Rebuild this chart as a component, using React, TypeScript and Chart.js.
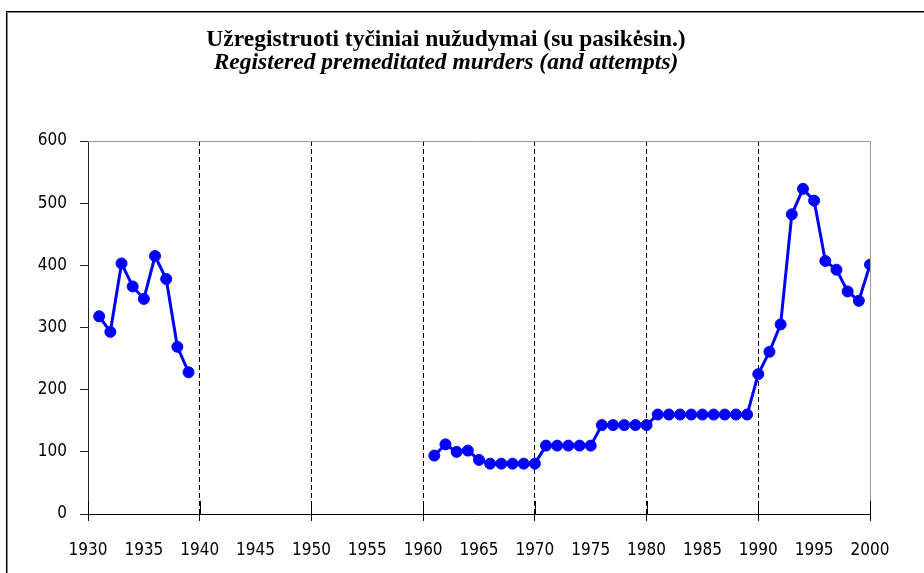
import React, { useEffect, useRef } from "react";
import { Chart, registerables } from "chart.js";

Chart.register(...registerables);

const titleLt = "Užregistruoti tyčiniai nužudymai (su pasikėsin.)";
const titleEn = "Registered premeditated murders (and attempts)";

const yearsPrewar = [1931, 1932, 1933, 1934, 1935, 1936, 1937, 1938, 1939];
const murdersPrewar = [318, 293, 403, 366, 346, 415, 378, 269, 228];

const yearsPostwar = [
  1961, 1962, 1963, 1964, 1965, 1966, 1967, 1968, 1969, 1970,
  1971, 1972, 1973, 1974, 1975, 1976, 1977, 1978, 1979, 1980,
  1981, 1982, 1983, 1984, 1985, 1986, 1987, 1988, 1989, 1990,
  1991, 1992, 1993, 1994, 1995, 1996, 1997, 1998, 1999, 2000,
];
const murdersPostwar = [
  94, 112, 100, 102, 87, 81, 81, 81, 81, 81,
  110, 110, 110, 110, 110, 143, 143, 143, 143, 143,
  160, 160, 160, 160, 160, 160, 160, 160, 160, 225,
  261, 305, 482, 523, 504, 407, 393, 358, 343, 401,
];

const xMin = 1930;
const xMax = 2000;
const xLabelStep = 5;
const xGridStep = 10;
const yMin = 0;
const yMax = 600;
const yStep = 100;

const tickFamily = "'DejaVu Sans Condensed', 'Liberation Sans Narrow', 'Liberation Sans', sans-serif";
const titleFamily = "'Liberation Serif', 'Times New Roman', serif";
const blue = "#0000FF";

const decor = {
  id: "decor",
  beforeDatasetsDraw(chart: any) {
    const { ctx, chartArea: a, scales } = chart;
    const x = scales.x;
    ctx.save();
    ctx.lineWidth = 1;
    ctx.strokeStyle = "#9a9a9a";
    ctx.beginPath();
    ctx.moveTo(a.left, Math.round(a.top) + 0.5);
    ctx.lineTo(Math.round(a.right) + 0.5, Math.round(a.top) + 0.5);
    ctx.lineTo(Math.round(a.right) + 0.5, a.bottom);
    ctx.stroke();
    ctx.strokeStyle = "#000";
    ctx.beginPath();
    for (const t of x.ticks) {
      if (t.value % xGridStep === 0) {
        const px = Math.round(x.getPixelForValue(t.value)) + 0.5;
        ctx.moveTo(px, a.bottom - 13);
        ctx.lineTo(px, a.bottom);
      }
    }
    ctx.stroke();
    ctx.restore();
  },
};

const toPoints = (xs: number[], ys: number[]) => xs.map((x, i) => ({ x, y: ys[i] }));

export default function App() {
  const ref = useRef<HTMLCanvasElement>(null);

  useEffect(() => {
    if (!ref.current) return;
    const seriesStyle = {
      borderColor: blue,
      backgroundColor: blue,
      pointBackgroundColor: blue,
      pointBorderColor: blue,
      borderWidth: 3,
      pointRadius: 5.5,
      pointBorderWidth: 1,
      tension: 0,
    };
    const chart = new Chart(ref.current, {
      type: "line",
      data: {
        datasets: [
          { ...seriesStyle, label: "1931-1939", data: toPoints(yearsPrewar, murdersPrewar) },
          { ...seriesStyle, label: "1961-2000", data: toPoints(yearsPostwar, murdersPostwar) },
        ],
      },
      options: {
        responsive: false,
        animation: false,
        devicePixelRatio: 1,
        layout: { padding: 0 },
        plugins: {
          legend: { display: false },
          tooltip: { enabled: false },
          title: {
            display: true,
            text: titleLt,
            color: "#000",
            font: { family: titleFamily, size: 23.5, weight: "bold", lineHeight: 1 },
            padding: { top: 28, bottom: 0 },
          },
          subtitle: {
            display: true,
            text: titleEn,
            color: "#000",
            font: { family: titleFamily, size: 23.5, weight: "bold", style: "italic", lineHeight: 1 },
            padding: { top: 0, bottom: 66 },
          },
        },
        scales: {
          x: {
            type: "linear",
            min: xMin,
            max: xMax,
            afterFit: (s: any) => {
              s.height = 59;
              s.paddingRight = 22;
              s.paddingLeft = 0;
            },
            ticks: {
              stepSize: xLabelStep,
              autoSkip: false,
              maxRotation: 0,
              padding: 19,
              color: "#000",
              font: { family: tickFamily, size: 17 },
              callback: (v: any) => String(v),
            },
            grid: {
              drawOnChartArea: true,
              drawTicks: true,
              tickLength: 7,
              lineWidth: 1,
              tickBorderDash: [],
              color: (c: any) => {
                const v = c.tick ? c.tick.value : null;
                return v !== null && v % xGridStep === 0 && v !== xMin && v !== xMax ? "#000" : "rgba(0,0,0,0)";
              },
              tickColor: (c: any) => {
                const v = c.tick ? c.tick.value : null;
                return v !== null && v % xGridStep === 0 ? "#000" : "rgba(0,0,0,0)";
              },
            },
            border: { display: true, color: "#000", width: 1, dash: [5, 3] },
          },
          y: {
            type: "linear",
            min: yMin,
            max: yMax,
            afterFit: (s: any) => { s.width = 88; },
            ticks: {
              stepSize: yStep,
              padding: 13,
              color: "#000",
              font: { family: tickFamily, size: 17 },
            },
            grid: {
              drawOnChartArea: false,
              drawTicks: true,
              tickLength: 8,
              tickColor: "#222",
            },
            border: { display: true, color: "#222", width: 1 },
          },
        },
      },
      plugins: [decor],
    });
    return () => chart.destroy();
  }, []);

  return (
    <div style={{ position: "fixed", left: 0, top: 0, width: 924, height: 573, background: "#fff" }}>
      <canvas ref={ref} width={892} height={573} style={{ position: "absolute", left: 0, top: 0, display: "block" }} />
      <div style={{ position: "absolute", left: 6, top: 11, width: 918, height: 562, borderTop: "1px solid #000", borderLeft: "1px solid #000", boxSizing: "border-box" }}>
        <div style={{ width: "100%", height: "100%", borderTop: "1px solid #888", borderLeft: "1px solid #888", boxSizing: "border-box" }} />
      </div>
    </div>
  );
}
